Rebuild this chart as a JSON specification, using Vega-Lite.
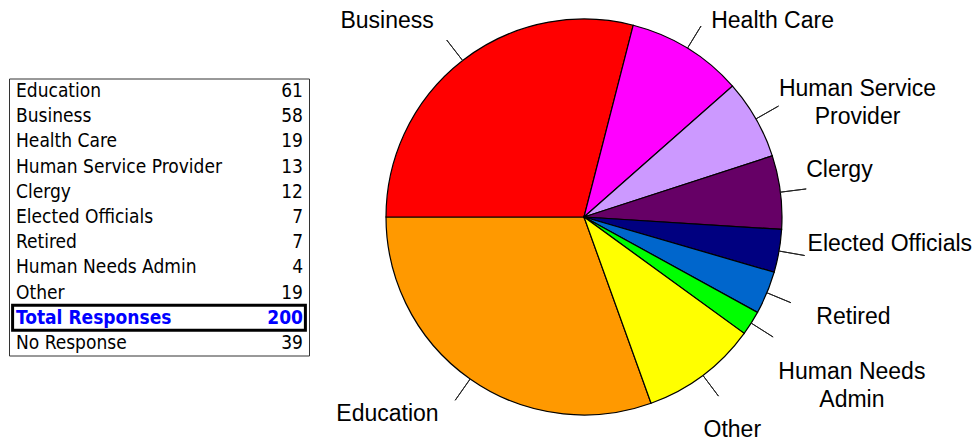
{
  "$schema": "https://vega.github.io/schema/vega-lite/v6.json",
  "padding": {"left": 8, "top": 0, "right": 0, "bottom": 0},
  "background": "white",
  "spacing": 20,
  "center": true,
  "bounds": "flush",
  "config": {"view": {"stroke": null}},
  "datasets": {
    "pie": [
      {"category": "Education", "count": 61, "rank": 1},
      {"category": "Business", "count": 58, "rank": 2},
      {"category": "Health Care", "count": 19, "rank": 3},
      {"category": "Human Service Provider", "count": 13, "rank": 4},
      {"category": "Clergy", "count": 12, "rank": 5},
      {"category": "Elected Officials", "count": 7, "rank": 6},
      {"category": "Retired", "count": 7, "rank": 7},
      {"category": "Human Needs Admin", "count": 4, "rank": 8},
      {"category": "Other", "count": 19, "rank": 9}
    ],
    "table": [
      {"row": 1, "label": "Education", "count": 61},
      {"row": 2, "label": "Business", "count": 58},
      {"row": 3, "label": "Health Care", "count": 19},
      {"row": 4, "label": "Human Service Provider", "count": 13},
      {"row": 5, "label": "Clergy", "count": 12},
      {"row": 6, "label": "Elected Officials", "count": 7},
      {"row": 7, "label": "Retired", "count": 7},
      {"row": 8, "label": "Human Needs Admin", "count": 4},
      {"row": 9, "label": "Other", "count": 19},
      {"row": 10, "label": "Total Responses", "count": 200},
      {"row": 11, "label": "No Response", "count": 39}
    ]
  },
  "hconcat": [
    {
      "width": 300,
      "height": 277,
      "data": {"name": "table"},
      "view": {"stroke": "#333333", "strokeWidth": 1},
      "encoding": {
        "y": {"field": "row", "type": "ordinal", "axis": null,
              "scale": {"domain": [1, 2, 3, 4, 5, 6, 7, 8, 9, 10, 11], "paddingInner": 0, "paddingOuter": 0}}
      },
      "layer": [
        {
          "transform": [{"filter": "datum.row === 10"}],
          "mark": {"type": "rect", "fillOpacity": 0, "stroke": "black", "strokeWidth": 3},
          "encoding": {
            "x": {"datum": 0.012, "type": "quantitative", "scale": {"domain": [0, 1], "nice": false, "zero": false}, "axis": null},
            "x2": {"datum": 0.988}
          }
        },
        {
          "transform": [{"filter": "datum.row !== 10"}],
          "mark": {"type": "text", "align": "left", "baseline": "middle", "font": "DejaVu Sans Condensed, DejaVu Sans", "fontSize": 19, "dx": 7, "color": "black"},
          "encoding": {
            "x": {"datum": 0, "type": "quantitative", "axis": null},
            "text": {"field": "label", "type": "nominal"}
          }
        },
        {
          "transform": [{"filter": "datum.row !== 10"}],
          "mark": {"type": "text", "align": "right", "baseline": "middle", "font": "DejaVu Sans Condensed, DejaVu Sans", "fontSize": 19, "dx": -6, "color": "black"},
          "encoding": {
            "x": {"datum": 1, "type": "quantitative", "axis": null},
            "text": {"field": "count", "type": "quantitative"}
          }
        },
        {
          "transform": [{"filter": "datum.row === 10"}],
          "mark": {"type": "text", "align": "left", "baseline": "middle", "font": "DejaVu Sans Condensed, DejaVu Sans", "fontSize": 19, "fontWeight": "bold", "dx": 7, "color": "#0000FF"},
          "encoding": {
            "x": {"datum": 0, "type": "quantitative", "axis": null},
            "text": {"field": "label", "type": "nominal"}
          }
        },
        {
          "transform": [{"filter": "datum.row === 10"}],
          "mark": {"type": "text", "align": "right", "baseline": "middle", "font": "DejaVu Sans Condensed, DejaVu Sans", "fontSize": 19, "fontWeight": "bold", "dx": -6, "color": "#0000FF"},
          "encoding": {
            "x": {"datum": 1, "type": "quantitative", "axis": null},
            "text": {"field": "count", "type": "quantitative"}
          }
        }
      ]
    },
    {
      "width": 510,
      "height": 434,
      "data": {"name": "pie"},
      "transform": [
        {"stack": "count", "groupby": [], "sort": [{"field": "rank", "order": "ascending"}], "as": ["c0", "c1"]}
      ],
      "layer": [
        {
          "mark": {"type": "arc", "outerRadius": 198, "stroke": "black", "strokeWidth": 1.2},
          "encoding": {
            "theta": {"field": "c0", "type": "quantitative", "stack": null,
                      "scale": {"domain": [0, 200], "range": [2.796, 9.0792]}},
            "theta2": {"field": "c1"},
            "color": {"field": "category", "type": "nominal", "legend": null,
                      "scale": {"domain": ["Education", "Business", "Health Care", "Human Service Provider", "Clergy", "Elected Officials", "Retired", "Human Needs Admin", "Other"],
                                "range": ["#FF9900", "#FF0000", "#FF00FF", "#CC99FF", "#660066", "#000080", "#0066CC", "#00FF00", "#FFFF00"]}}
          }
        },
        {
          "mark": {"type": "arc", "radius": 224, "radius2": 198, "padAngle": 1.38, "fillOpacity": 0, "stroke": "#222222", "strokeWidth": 1},
          "encoding": {
            "theta": {"field": "c0", "type": "quantitative", "stack": null,
                      "scale": {"domain": [0, 200], "range": [2.796, 9.0792]}},
            "theta2": {"field": "c1"}
          }
        },
        {
          "transform": [
            {"fold": ["c0", "c1"], "as": ["edge", "pos"]},
            {"aggregate": [{"op": "mean", "field": "pos", "as": "mid"}], "groupby": ["category"]}
          ],
          "encoding": {
            "theta": {"field": "mid", "type": "quantitative", "stack": null,
                      "scale": {"domain": [0, 200], "range": [2.796, 9.0792]}}
          },
          "layer": [
            {
              "transform": [{"filter": "datum.category === 'Business'"}],
              "mark": {"type": "text", "radius": 232, "align": "right", "baseline": "middle", "font": "Liberation Sans", "fontSize": 23, "dx": -8, "dy": -13, "color": "black"},
              "encoding": {"text": {"field": "category", "type": "nominal"}}
            },
            {
              "transform": [{"filter": "datum.category === 'Education'"}],
              "mark": {"type": "text", "radius": 232, "align": "right", "baseline": "middle", "font": "Liberation Sans", "fontSize": 23, "dx": -12, "dy": 7, "color": "black"},
              "encoding": {"text": {"field": "category", "type": "nominal"}}
            },
            {
              "transform": [{"filter": "datum.category === 'Health Care'"}],
              "mark": {"type": "text", "radius": 232, "align": "left", "baseline": "middle", "font": "Liberation Sans", "fontSize": 23, "dx": 6, "dy": 2, "color": "black"},
              "encoding": {"text": {"field": "category", "type": "nominal"}}
            },
            {
              "transform": [{"filter": "datum.category === 'Human Service Provider'"}],
              "mark": {"type": "text", "radius": 232, "align": "center", "baseline": "middle", "font": "Liberation Sans", "fontSize": 23, "lineHeight": 28, "dx": 72, "dy": -13, "color": "black"},
              "encoding": {"text": {"value": ["Human Service", "Provider"]}}
            },
            {
              "transform": [{"filter": "datum.category === 'Clergy'"}],
              "mark": {"type": "text", "radius": 232, "align": "left", "baseline": "middle", "font": "Liberation Sans", "fontSize": 23, "dx": -8, "dy": -18, "color": "black"},
              "encoding": {"text": {"field": "category", "type": "nominal"}}
            },
            {
              "transform": [{"filter": "datum.category === 'Elected Officials'"}],
              "mark": {"type": "text", "radius": 232, "align": "left", "baseline": "middle", "font": "Liberation Sans", "fontSize": 23, "dx": -5, "dy": -13, "color": "black"},
              "encoding": {"text": {"field": "category", "type": "nominal"}}
            },
            {
              "transform": [{"filter": "datum.category === 'Retired'"}],
              "mark": {"type": "text", "radius": 232, "align": "left", "baseline": "middle", "font": "Liberation Sans", "fontSize": 23, "dx": 18, "dy": 11, "color": "black"},
              "encoding": {"text": {"field": "category", "type": "nominal"}}
            },
            {
              "transform": [{"filter": "datum.category === 'Human Needs Admin'"}],
              "mark": {"type": "text", "radius": 232, "align": "center", "baseline": "middle", "font": "Liberation Sans", "fontSize": 23, "lineHeight": 28, "dx": 72, "dy": 31, "color": "black"},
              "encoding": {"text": {"value": ["Human Needs", "Admin"]}}
            },
            {
              "transform": [{"filter": "datum.category === 'Other'"}],
              "mark": {"type": "text", "radius": 232, "align": "center", "baseline": "middle", "font": "Liberation Sans", "fontSize": 23, "dx": 9, "dy": 27, "color": "black"},
              "encoding": {"text": {"field": "category", "type": "nominal"}}
            }
          ]
        }
      ]
    }
  ]
}
